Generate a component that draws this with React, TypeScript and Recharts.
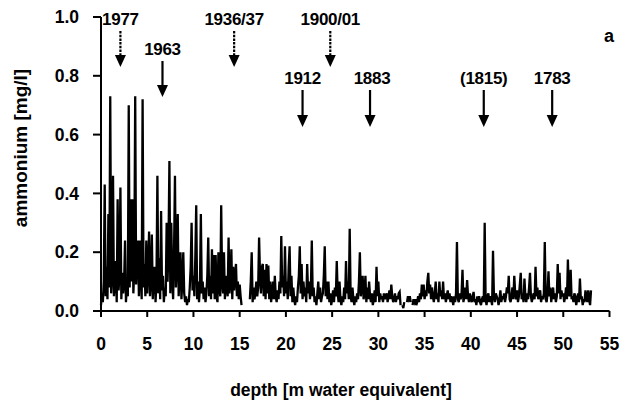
import { LineChart, Line, XAxis, YAxis } from 'recharts'

// ammonium [mg/l], one value every 0.1 m water equivalent (null = no data)
const ammonium00to10 = [
  0.02, 0.06, 0.03, 0.10, 0.43, 0.05, 0.15, 0.04, 0.33, 0.08,
  0.73, 0.06, 0.12, 0.46, 0.05, 0.10, 0.17, 0.03, 0.38, 0.07,
  0.12, 0.42, 0.04, 0.13, 0.06, 0.10, 0.24, 0.03, 0.09, 0.05,
  0.70, 0.08, 0.38, 0.10, 0.38, 0.06, 0.14, 0.73, 0.09, 0.20,
  0.24, 0.05, 0.24, 0.12, 0.04, 0.72, 0.08, 0.16, 0.05, 0.24,
  0.06, 0.14, 0.27, 0.05, 0.10, 0.26, 0.04, 0.12, 0.15, 0.03,
  0.10, 0.46, 0.06, 0.18, 0.04, 0.34, 0.07, 0.12, 0.03, 0.08,
  0.05, 0.30, 0.10, 0.22, 0.51, 0.06, 0.30, 0.12, 0.04, 0.20,
  0.46, 0.08, 0.15, 0.33, 0.05, 0.12, 0.20, 0.04, 0.10, 0.20,
  0.06, 0.03, 0.05, 0.02, 0.04, 0.03, 0.08, 0.15, 0.30, 0.07,
]
const ammonium10to20 = [
  0.12, 0.05, 0.18, 0.36, 0.04, 0.10, 0.03, 0.08, 0.33, 0.06,
  0.10, 0.04, 0.08, 0.03, 0.06, 0.12, 0.25, 0.05, 0.12, 0.04,
  0.21, 0.06, 0.19, 0.04, 0.19, 0.05, 0.03, 0.20, 0.08, 0.05,
  0.36, 0.10, 0.06, 0.20, 0.04, 0.12, 0.08, 0.05, 0.25, 0.06,
  0.10, 0.21, 0.04, 0.15, 0.07, 0.12, 0.16, 0.05, 0.10, 0.04,
  0.09, 0.05, 0.02, null, null, null, null, null, null, null,
  null, 0.04, 0.10, 0.20, 0.03, 0.08, 0.04, 0.06, 0.10, 0.05,
  0.08, 0.25, 0.12, 0.06, 0.15, 0.16, 0.05, 0.14, 0.04, 0.16,
  0.06, 0.155, 0.04, 0.10, 0.03, 0.06, 0.10, 0.04, 0.12, 0.05,
  0.03, 0.07, 0.04, 0.10, 0.06, 0.255, 0.08, 0.12, 0.05, 0.22,
]
const ammonium20to30 = [
  0.06, 0.10, 0.04, 0.15, 0.22, 0.05, 0.12, 0.03, 0.08, 0.04,
  0.02, 0.05, 0.03, 0.08, 0.12, 0.22, 0.06, 0.16, 0.04, 0.10,
  0.05, 0.08, 0.03, 0.16, 0.06, 0.10, 0.04, 0.07, 0.24, 0.05,
  0.08, 0.03, 0.05, 0.02, 0.06, 0.10, 0.04, 0.08, 0.03, 0.05,
  0.06, 0.12, 0.22, 0.05, 0.10, 0.04, 0.10, 0.03, 0.06, 0.02,
  0.04, 0.07, 0.03, 0.08, 0.05, 0.17, 0.06, 0.03, 0.10, 0.04,
  0.02, 0.05, 0.03, 0.08, 0.04, 0.17, 0.06, 0.10, 0.04, 0.28,
  0.05, 0.03, 0.08, 0.04, 0.02, 0.05, 0.03, 0.06, 0.04, 0.10,
  0.20, 0.05, 0.08, 0.12, 0.04, 0.06, 0.12, 0.03, 0.08, 0.04,
  0.10, 0.05, 0.03, 0.06, 0.02, 0.04, 0.07, 0.03, 0.15, 0.05,
]
const ammonium30to40 = [
  0.10, 0.03, 0.06, 0.04, 0.05, 0.03, 0.06, 0.04, 0.05, 0.06,
  0.03, 0.05, 0.07, 0.04, 0.09, 0.05, 0.03, 0.04, 0.06, 0.03,
  0.05, 0.04, 0.06, 0.065, 0.02, null, 0.02, 0.01, 0.03, null,
  null, 0.03, 0.05, 0.04, 0.05, 0.03, null, 0.02, 0.04, 0.03,
  0.04, 0.02, 0.03, 0.05, 0.03, 0.06, 0.04, 0.09, 0.05, 0.09,
  0.04, 0.07, 0.05, 0.10, 0.13, 0.06, 0.09, 0.04, 0.08, 0.05,
  0.03, 0.06, 0.10, 0.04, 0.06, 0.03, 0.10, 0.05, 0.07, 0.04,
  0.10, 0.04, 0.06, 0.03, 0.05, 0.07, 0.04, 0.06, 0.03, 0.05,
  0.04, 0.02, 0.05, 0.03, 0.06, 0.235, 0.04, 0.03, 0.06, 0.04,
  0.06, 0.14, 0.03, 0.05, 0.08, 0.04, 0.105, 0.05, 0.03, 0.06,
]
const ammonium40to53 = [
  0.04, 0.03, 0.05, 0.065, 0.03, 0.04, 0.02, 0.05, 0.03, 0.05,
  0.03, 0.02, 0.04, 0.05, 0.03, 0.30, 0.04, 0.02, 0.05, 0.06,
  0.03, 0.05, 0.04, 0.02, 0.205, 0.05, 0.03, 0.06, 0.05, 0.04,
  0.02, 0.04, 0.07, 0.03, 0.05, 0.04, 0.06, 0.03, 0.05, 0.08,
  0.06, 0.12, 0.04, 0.03, 0.05, 0.08, 0.04, 0.12, 0.06, 0.04,
  0.07, 0.03, 0.05, 0.09, 0.13, 0.04, 0.06, 0.03, 0.11, 0.05,
  0.03, 0.06, 0.04, 0.08, 0.13, 0.05, 0.03, 0.05, 0.06, 0.04,
  0.15, 0.05, 0.08, 0.04, 0.06, 0.07, 0.03, 0.05, 0.04, 0.06,
  0.235, 0.04, 0.03, 0.06, 0.135, 0.05, 0.08, 0.03, 0.06, 0.08,
  0.04, 0.06, 0.03, 0.05, 0.16, 0.06, 0.13, 0.04, 0.07, 0.05,
  0.06, 0.03, 0.05, 0.08, 0.04, 0.175, 0.06, 0.05, 0.14, 0.04,
  0.05, 0.03, 0.06, 0.05, 0.02, 0.04, 0.06, 0.03, 0.11, 0.04,
  0.05, 0.02, 0.04, 0.03, 0.07, 0.05, 0.03, 0.07, 0.04, 0.02,
  0.07,
]

const depthStep = 0.1
const depthTicks = [0, 5, 10, 15, 20, 25, 30, 35, 40, 45, 50, 55]
const ammoniumTicks = [0, 0.2, 0.4, 0.6, 0.8, 1.0]

// dated horizons marked with arrows (depth in m w.e.)
const horizonLabels = ['1977', '1963', '1936/37', '1912', '1900/01', '1883', '(1815)', '1783']
const horizonDepths = [2.1, 6.65, 14.4, 21.8, 24.8, 29.1, 41.4, 48.8]
const horizonRow = [0, 1, 0, 2, 0, 2, 2, 2]
const horizonDashed = [true, false, true, false, true, false, false, false]

const data = [
  ...ammonium00to10, ...ammonium10to20, ...ammonium20to30, ...ammonium30to40, ...ammonium40to53,
].map((v, i) => ({ depth: Math.round(i * depthStep * 10) / 10, nh4: v }))

const font = '"Liberation Sans", Arial, Helvetica, sans-serif'

// plot box (must match chart margins below)
const plotLeft = 101
const plotRight = 609.5
const plotTop = 17
const plotBottom = 311
const xPx = (d: number) => plotLeft + (d / 55) * (plotRight - plotLeft)

// label rows: [text baseline, shaft top, head bottom]
const rows = [
  [25, 31, 67],
  [55, 61, 97],
  [84, 90, 127],
]

function Annotations() {
  return (
    <svg width={622} height={405} style={{ position: 'absolute', left: 0, top: 0, pointerEvents: 'none' }}>
      {horizonLabels.map((label, i) => {
        const x = xPx(horizonDepths[i])
        const [base, y1, y2] = rows[horizonRow[i]]
        return (
          <g key={label}>
            <text x={x + (label === '1883' ? 2 : 0)} y={base} textAnchor="middle" fontFamily={font}
              fontWeight="bold" fontSize={17} letterSpacing={-0.3} fill="#000">{label}</text>
            <line x1={x} x2={x} y1={y1} y2={y2 - 11} stroke="#000" strokeWidth={2.2}
              strokeDasharray={horizonDashed[i] ? '2.5 1.2' : undefined} />
            <polygon points={`${x - 5.5},${y2 - 12} ${x + 5.5},${y2 - 12} ${x},${y2}`} fill="#000" />
          </g>
        )
      })}
      <text x={609} y={42} textAnchor="middle" fontFamily={font} fontWeight="bold" fontSize={18}>a</text>
      <text x={341} y={396} textAnchor="middle" fontFamily={font} fontWeight="bold" fontSize={17.5}>
        depth [m water equivalent]
      </text>
      <text transform="translate(27,148) rotate(-90)" textAnchor="middle" fontFamily={font}
        fontWeight="bold" fontSize={19}>ammonium [mg/l]</text>
    </svg>
  )
}

export default function App() {
  const tickStyle = { fontFamily: font, fontWeight: 'bold', fontSize: 17.5, fill: '#000' }
  return (
    <div style={{ position: 'absolute', left: 0, top: 0, width: 622, height: 405, background: '#fff' }}>
      <LineChart width={622} height={405} data={data}
        margin={{ top: plotTop, right: 622 - plotRight, left: 0, bottom: 0 }}>
        <XAxis dataKey="depth" type="number" domain={[0, 55]} ticks={depthTicks} height={405 - plotBottom}
          axisLine={{ stroke: '#000', strokeWidth: 2 }} tickLine={{ stroke: '#000', strokeWidth: 2 }}
          tickSize={6} tickMargin={21} tick={tickStyle} interval={0} />
        <YAxis type="number" domain={[0, 1]} ticks={ammoniumTicks} width={plotLeft}
          axisLine={{ stroke: '#000', strokeWidth: 2 }} tickLine={{ stroke: '#000', strokeWidth: 2 }}
          tickSize={8} tickMargin={14} tick={tickStyle} tickFormatter={(v: number) => v.toFixed(1)} />
        <Line dataKey="nh4" type="linear" stroke="#000" strokeWidth={2.3} dot={false}
          connectNulls={false} isAnimationActive={false} />
      </LineChart>
      <Annotations />
    </div>
  )
}
